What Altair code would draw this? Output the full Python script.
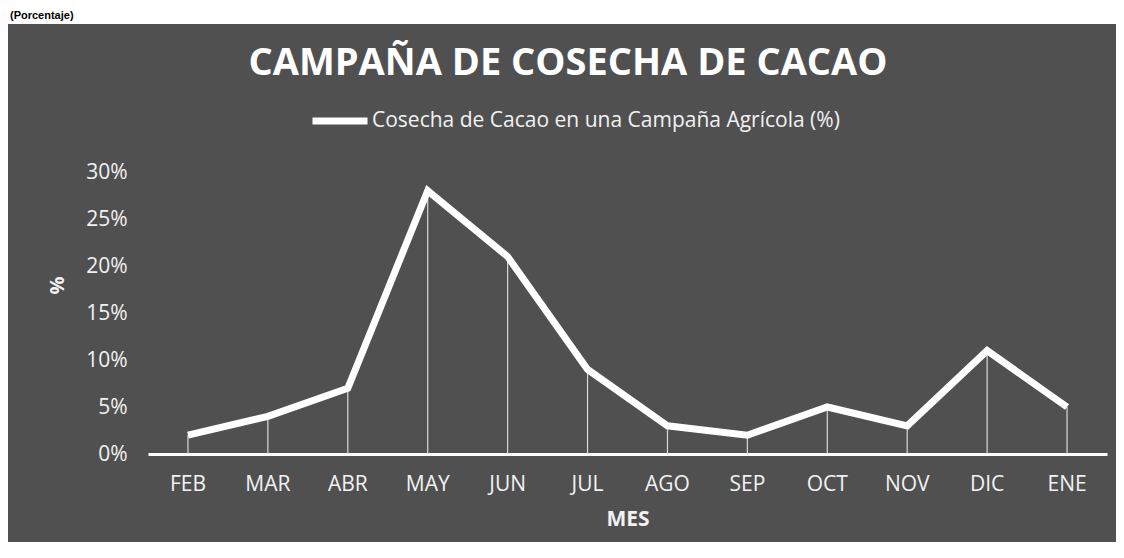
import altair as alt
import pandas as pd

meses = ["FEB", "MAR", "ABR", "MAY", "JUN", "JUL", "AGO", "SEP", "OCT", "NOV", "DIC", "ENE"]
cosecha = [2, 4, 7, 28, 21, 9, 3, 2, 5, 3, 11, 5]
serie = "Cosecha de Cacao en una Campaña Agrícola (%)"
y_ticks = [0, 5, 10, 15, 20, 25, 30]
titulo = "CAMPAÑA DE COSECHA DE CACAO"
encabezado = "(Porcentaje)"

df = pd.DataFrame({"MES": meses, "valor": cosecha, "serie": [serie] * len(meses)})
one = pd.DataFrame({"t": [titulo], "h": [encabezado]})

FONT = "Open Sans"
LIGHT = "#f2f2f2"
BG = "#505050"

x_enc = alt.X(
    "MES:N", sort=meses,
    axis=alt.Axis(title="MES", labelAngle=0, ticks=False, grid=False,
                  domainColor="#ffffff", domainWidth=3,
                  labelPadding=19, labelFont=FONT, labelFontSize=21, labelColor=LIGHT,
                  titleFont=FONT, titleFontSize=21, titleFontWeight="bold",
                  titleColor=LIGHT, titlePadding=14),
)
y_enc = alt.Y(
    "valor:Q", scale=alt.Scale(domain=[0, 30], nice=False),
    axis=alt.Axis(values=y_ticks, labelExpr="datum.value + '%'", ticks=False,
                  domain=False, grid=False, labelPadding=21, labelFont=FONT,
                  labelFontSize=21, labelColor=LIGHT, title="%", titleFont=FONT,
                  titleFontSize=20, titleFontWeight="bold", titleColor=LIGHT,
                  titleX=-91, titleY=113, titleAngle=270, titleAlign="center",
                  titleBaseline="middle"),
)

strip = alt.Chart(one).mark_rect(color="#ffffff").encode(
    x=alt.value(-140), x2=alt.value(968), y=alt.value(-164), y2=alt.value(-148)
)
header = alt.Chart(one).mark_text(
    font="Liberation Sans", fontSize=11, fontWeight="bold", color="#000000",
    align="left", baseline="middle"
).encode(text="h:N", x=alt.value(-138), y=alt.value(-156))

title = alt.Chart(one).mark_text(
    font=FONT, fontSize=38, fontWeight="bold", color="#ffffff",
    align="center", baseline="alphabetic"
).encode(text="t:N", x=alt.value(420), y=alt.value(-97))

drops = alt.Chart(df).mark_rule(color="#d9d9d9", strokeWidth=1.2).encode(
    x=x_enc, y=y_enc, y2=alt.datum(0)
)

line = alt.Chart(df).mark_line(strokeWidth=7, strokeJoin="miter").encode(
    x=x_enc, y=y_enc,
    color=alt.Color(
        "serie:N", scale=alt.Scale(range=["#ffffff"]),
        legend=alt.Legend(orient="none", legendX=161, legendY=-82, title=None,
                          symbolType="stroke", symbolStrokeWidth=7, symbolSize=3025,
                          labelFont=FONT, labelFontSize=21, labelColor=LIGHT,
                          labelOffset=1, labelLimit=0, padding=0, rowPadding=0),
    ),
)

chart = alt.layer(strip, header, title, drops, line).properties(
    width=959, height=282,
    padding={"left": 140, "top": 164, "right": 9, "bottom": 88},
    autosize=alt.AutoSizeParams(type="none"),
).configure(background=BG).configure_view(stroke=None)

chart.save("out.html", embed_options={"renderer": "svg", "actions": False})
